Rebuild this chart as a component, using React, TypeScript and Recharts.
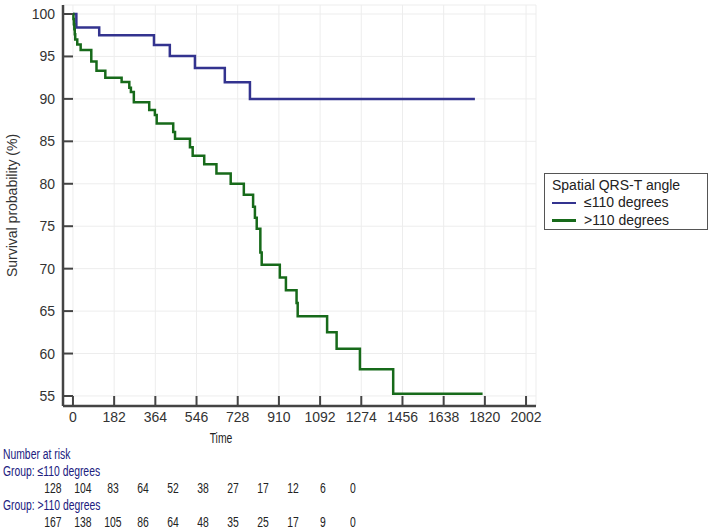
/**
 * Kaplan-Meier survival curves by spatial QRS-T angle, with number-at-risk table.
 */

import { LineChart, Line, XAxis, YAxis, CartesianGrid } from "recharts";

const lowDays = [0, 15, 116, 358, 428, 539, 671, 782, 1776];
const lowSurv = [100, 98.4, 97.5, 96.35, 95.05, 93.65, 91.95, 90.0, 90.0];

const highDays = [
  0, 2, 4, 6, 8, 10, 19, 34, 81, 104, 143, 215, 249, 256, 269, 337, 362, 370,
  443, 451, 517, 529, 580, 634, 697, 755, 796, 804, 812, 828, 834, 914, 941,
  988, 993, 1123, 1165, 1268, 1415, 1810,
];
const highSurv = [
  100, 99.4, 98.8, 98.2, 97.6, 97.0, 96.4, 95.75, 94.4, 93.3, 92.5, 92.0, 91.3,
  90.8, 89.6, 88.7, 88.1, 87.1, 86.1, 85.3, 84.3, 83.3, 82.3, 81.2, 80.0, 78.7,
  77.3, 76.0, 74.7, 71.9, 70.45, 68.95, 67.45, 65.95, 64.4, 62.5, 60.55, 58.15,
  55.25, 55.25,
];

const xTicks = [0, 182, 364, 546, 728, 910, 1092, 1274, 1456, 1638, 1820, 2002];
const yTicks = [55, 60, 65, 70, 75, 80, 85, 90, 95, 100];

const groups = ["≤110 degrees", ">110 degrees"];
const atRiskLow = [128, 104, 83, 64, 52, 38, 27, 17, 12, 6, 0];
const atRiskHigh = [167, 138, 105, 86, 64, 48, 35, 25, 17, 9, 0];

const BLUE = "#33338f";
const GREEN = "#176a1a";
const NAVY = "#20207e";
const AXIS = "#444";
const FONT = "'Liberation Sans', Arial, sans-serif";

const lowData = lowDays.map((d, i) => ({ day: d, surv: lowSurv[i] }));
const highData = highDays.map((d, i) => ({ day: d, surv: highSurv[i] }));

const narrow = (origin: string) => ({
  transform: "scaleX(0.74)",
  transformOrigin: origin,
  whiteSpace: "nowrap" as const,
});

function RiskRow({ values, top }: { values: number[]; top: number }) {
  return (
    <>
      {values.map((v, i) => (
        <div
          key={i}
          style={{
            position: "absolute",
            left: 53.3 + 30 * i - 15,
            top,
            width: 30,
            textAlign: "center",
            color: "#222",
            ...narrow("center"),
          }}
        >
          {v}
        </div>
      ))}
    </>
  );
}

function Label({ text, top }: { text: string; top: number }) {
  return (
    <div
      style={{ position: "absolute", left: 3, top, color: NAVY, ...narrow("left") }}
    >
      {text}
    </div>
  );
}

export default function App() {
  const tickStyle = { fill: "#333", fontSize: 14, fontFamily: FONT };
  return (
    <div
      style={{
        position: "relative",
        width: 714,
        height: 531,
        fontFamily: FONT,
        fontSize: 14,
        lineHeight: "17px",
        background: "#fff",
      }}
    >
      <style>{"body{margin:0}"}</style>
      <LineChart
        width={714}
        height={531}
        margin={{ top: 5, right: 178, bottom: 85, left: 0 }}
      >
        <CartesianGrid stroke="#ededed" strokeWidth={1} />
        <XAxis
          type="number"
          dataKey="day"
          domain={[-44, 2046]}
          ticks={xTicks}
          interval={0}
          height={40}
          tickSize={-10}
          tickMargin={16}
          tick={tickStyle}
          axisLine={{ stroke: AXIS, strokeWidth: 2.5 }}
          tickLine={{ stroke: AXIS, strokeWidth: 2 }}
        />
        <YAxis
          type="number"
          domain={[53.82, 101.06]}
          ticks={yTicks}
          interval={0}
          width={63}
          tickSize={-10}
          tickMargin={18}
          tick={tickStyle}
          axisLine={{ stroke: AXIS, strokeWidth: 2.5 }}
          tickLine={{ stroke: AXIS, strokeWidth: 2 }}
          label={{
            value: "Survival probability (%)",
            angle: -90,
            position: "insideLeft",
            offset: 12,
            style: { textAnchor: "middle", fill: "#333", fontSize: 14, fontFamily: FONT },
          }}
        />
        <Line
          data={lowData}
          dataKey="surv"
          type="stepAfter"
          stroke={BLUE}
          strokeWidth={2.5}
          dot={false}
          isAnimationActive={false}
        />
        <Line
          data={highData}
          dataKey="surv"
          type="stepAfter"
          stroke={GREEN}
          strokeWidth={2.5}
          dot={false}
          isAnimationActive={false}
        />
      </LineChart>

      {/* legend */}
      <div
        style={{
          position: "absolute",
          left: 544,
          top: 172.5,
          width: 164,
          height: 57,
          border: "1px solid #555",
          boxSizing: "border-box",
          padding: "3px 0 0 7px",
          color: "#222",
          lineHeight: "17.5px",
        }}
      >
        <div>Spatial QRS-T angle</div>
        {groups.map((g, i) => (
          <div key={g} style={{ display: "flex", alignItems: "center" }}>
            <span
              style={{
                display: "inline-block",
                width: 24,
                height: 2.5,
                background: i === 0 ? BLUE : GREEN,
                marginRight: 8,
              }}
            />
            {g}
          </div>
        ))}
      </div>

      {/* x-axis title */}
      <div
        style={{
          position: "absolute",
          left: 171,
          width: 100,
          top: 430,
          textAlign: "center",
          color: "#222",
          ...narrow("center"),
        }}
      >
        Time
      </div>

      {/* number at risk */}
      <Label text="Number at risk" top={446.2} />
      <Label text={`Group: ${groups[0]}`} top={463.2} />
      <RiskRow values={atRiskLow} top={480.2} />
      <Label text={`Group: ${groups[1]}`} top={497.2} />
      <RiskRow values={atRiskHigh} top={514.2} />
    </div>
  );
}
